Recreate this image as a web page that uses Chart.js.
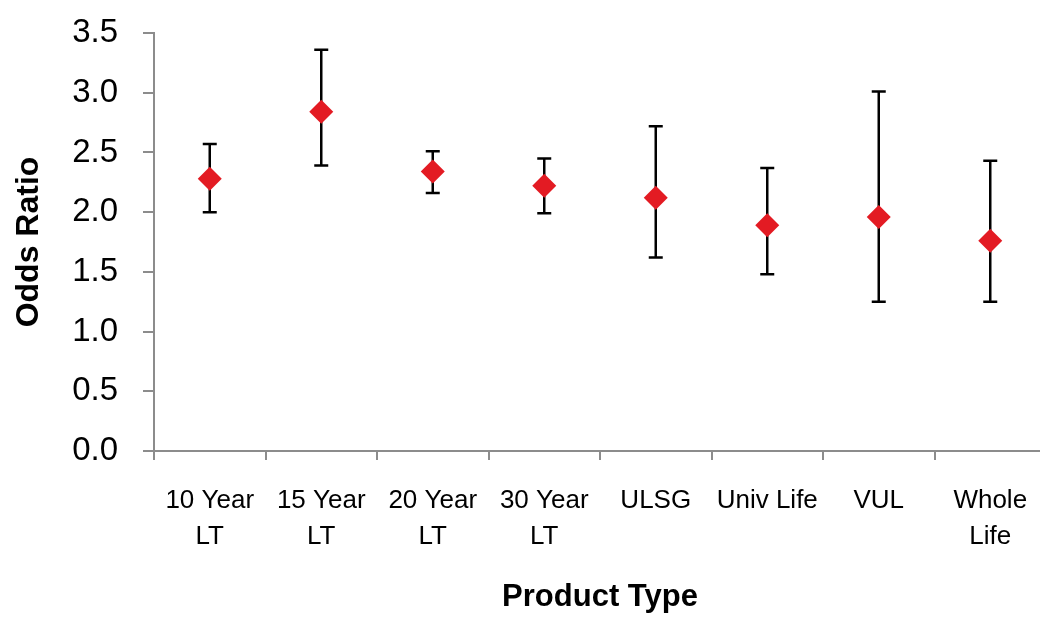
<!DOCTYPE html>
<html>
<head>
<meta charset="utf-8">
<script src="https://cdn.jsdelivr.net/npm/chart.js@4/dist/chart.umd.min.js"></script>
<style>
  html, body { margin: 0; padding: 0; background: #fff; overflow: hidden; }
  #wrap { width: 1050px; height: 623px; position: relative; }
</style>
</head>
<body>
<div id="wrap"><canvas id="c" width="1050" height="623"></canvas></div>
<script>
const categories = [["10 Year", "LT"], ["15 Year", "LT"], ["20 Year", "LT"], ["30 Year", "LT"], "ULSG", "Univ Life", "VUL", ["Whole", "Life"]];
const oddsRatio = [2.28, 2.84, 2.34, 2.22, 2.12, 1.89, 1.96, 1.76];
const lowerCI   = [2.00, 2.39, 2.16, 1.99, 1.62, 1.48, 1.25, 1.25];
const upperCI   = [2.57, 3.36, 2.51, 2.45, 2.72, 2.37, 3.01, 2.43];
const yTicks = [0, 0.5, 1.0, 1.5, 2.0, 2.5, 3.0, 3.5];

const errorBars = {
  id: 'errorBars',
  beforeDatasetsDraw(chart) {
    const ctx = chart.ctx;
    const xs = chart.scales.x, ys = chart.scales.y;
    ctx.save();
    ctx.strokeStyle = '#000';
    ctx.lineWidth = 2.5;
    for (let i = 0; i < oddsRatio.length; i++) {
      const x = xs.getPixelForValue(i);
      const yl = ys.getPixelForValue(lowerCI[i]);
      const yu = ys.getPixelForValue(upperCI[i]);
      ctx.beginPath();
      ctx.moveTo(x, yl); ctx.lineTo(x, yu);
      ctx.moveTo(x - 7, yl); ctx.lineTo(x + 7, yl);
      ctx.moveTo(x - 7, yu); ctx.lineTo(x + 7, yu);
      ctx.stroke();
    }
    ctx.restore();
  }
};

new Chart(document.getElementById('c'), {
  type: 'line',
  data: {
    labels: categories,
    datasets: [{
      data: oddsRatio,
      showLine: false,
      pointStyle: 'rectRot',
      pointRadius: 12,
      pointHoverRadius: 12,
      pointBackgroundColor: '#E31B23',
      pointBorderColor: '#E31B23',
      pointBorderWidth: 0
    }]
  },
  options: {
    responsive: false,
    animation: false,
    events: [],
    layout: { autoPadding: false, padding: { top: 33, right: 4, left: 0, bottom: 0 } },
    plugins: { legend: { display: false }, tooltip: { enabled: false } },
    scales: {
      x: {
        type: 'category',
        offset: true,
        grid: { offset: true, drawOnChartArea: false, drawTicks: true, tickLength: 9, color: '#8c8c8c', lineWidth: 2 },
        border: { display: true, color: '#8c8c8c', width: 2 },
        ticks: { color: '#000', font: { family: 'Liberation Sans, Arial, sans-serif', size: 26, lineHeight: 1.41 }, padding: 22, maxRotation: 0, autoSkip: false },
        title: { display: true, text: 'Product Type', color: '#000', font: { family: 'Liberation Sans, Arial, sans-serif', size: 31, weight: 'bold', lineHeight: 1.2 }, padding: { top: 0, bottom: 7 } },
        afterFit(scale) { scale.height = 172; scale.paddingLeft = 0; scale.paddingRight = 0; }
      },
      y: {
        min: 0, max: 3.5,
        afterBuildTicks(scale) { scale.ticks = yTicks.map(v => ({ value: v })); },
        grid: { drawOnChartArea: false, drawTicks: true, tickLength: 11, color: '#8c8c8c', lineWidth: 2 },
        border: { display: true, color: '#8c8c8c', width: 2 },
        ticks: { color: '#000', font: { family: 'Liberation Sans, Arial, sans-serif', size: 33 }, padding: 25, callback: v => Number(v).toFixed(1) },
        title: { display: true, text: 'Odds Ratio', color: '#000', font: { family: 'Liberation Sans, Arial, sans-serif', size: 32, weight: 'bold', lineHeight: 1.2 }, padding: { top: 10, bottom: 0 } },
        afterFit(scale) { scale.width = 154; scale.paddingTop = 0; scale.paddingBottom = 0; }
      }
    }
  },
  plugins: [errorBars]
});
</script>
</body>
</html>
